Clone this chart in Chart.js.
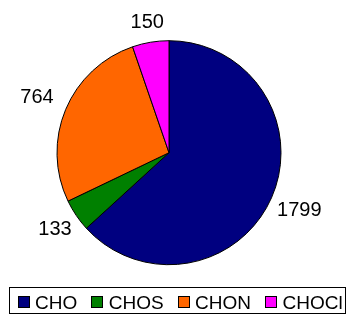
<!DOCTYPE html>
<html><head><meta charset="utf-8">
<script src="https://cdn.jsdelivr.net/npm/chart.js@4"></script>
<style>html,body{margin:0;padding:0;background:#fff;overflow:hidden}#wrap{position:relative;width:349px;height:320px}</style>
</head><body><div id="wrap"><canvas id="c" width="349" height="320"></canvas></div>
<script>
const categories = ['CHO', 'CHOS', 'CHON', 'CHOCl'];
const counts = [1799, 133, 764, 150];
const colors = ['#000080', '#008000', '#FF6600', '#FF00FF'];

const FONT = '"Liberation Sans", Arial, sans-serif';

const valueLabels = {
  id: 'valueLabels',
  afterDatasetsDraw(chart) {
    const ctx = chart.ctx;
    const meta = chart.getDatasetMeta(0);
    ctx.save();
    ctx.font = '20px ' + FONT;
    ctx.fillStyle = '#000';
    ctx.textAlign = 'center';
    ctx.textBaseline = 'middle';
    meta.data.forEach((arc, i) => {
      const p = arc.getProps(['x', 'y', 'startAngle', 'endAngle', 'outerRadius'], true);
      const mid = (p.startAngle + p.endAngle) / 2;
      const dx = Math.cos(mid), dy = Math.sin(mid);
      const txt = String(counts[i]);
      const hw = ctx.measureText(txt).width / 2, hh = 7;
      const ex = Math.abs(dx) > 1e-6 ? hw / Math.abs(dx) : Infinity;
      const ey = Math.abs(dy) > 1e-6 ? hh / Math.abs(dy) : Infinity;
      const d = p.outerRadius + 13 + Math.min(ex, ey);
      ctx.fillText(txt, p.x + dx * d, p.y + dy * d);
    });
    ctx.restore();
  }
};

const boxLegend = {
  id: 'boxLegend',
  afterDraw(chart) {
    const ctx = chart.ctx;
    ctx.save();
    ctx.strokeStyle = '#000';
    ctx.lineWidth = 1;
    ctx.strokeRect(9.5, 287.5, 336, 26);
    ctx.font = '19px ' + FONT;
    ctx.textBaseline = 'alphabetic';
    ctx.textAlign = 'left';
    let x = 17.5;
    categories.forEach((name, i) => {
      ctx.fillStyle = colors[i];
      ctx.fillRect(Math.round(x), 296, 12, 12);
      ctx.strokeStyle = '#000';
      ctx.strokeRect(Math.round(x) + 0.5, 296.5, 11, 11);
      ctx.fillStyle = '#000';
      const tx = x + 12 + 5.5;
      ctx.fillText(name, tx, 308.5);
      x = tx + ctx.measureText(name).width + 14;
    });
    ctx.restore();
  }
};

new Chart(document.getElementById('c'), {
  type: 'pie',
  data: {
    labels: categories,
    datasets: [{
      data: counts,
      backgroundColor: colors,
      borderColor: '#000',
      borderWidth: 1
    }]
  },
  options: {
    responsive: false,
    animation: false,
    events: [],
    layout: { padding: { left: 56.5, right: 67.5, top: 40.2, bottom: 54.8 } },
    plugins: {
      legend: { display: false },
      tooltip: { enabled: false }
    }
  },
  plugins: [valueLabels, boxLegend]
});
</script>
</body></html>
